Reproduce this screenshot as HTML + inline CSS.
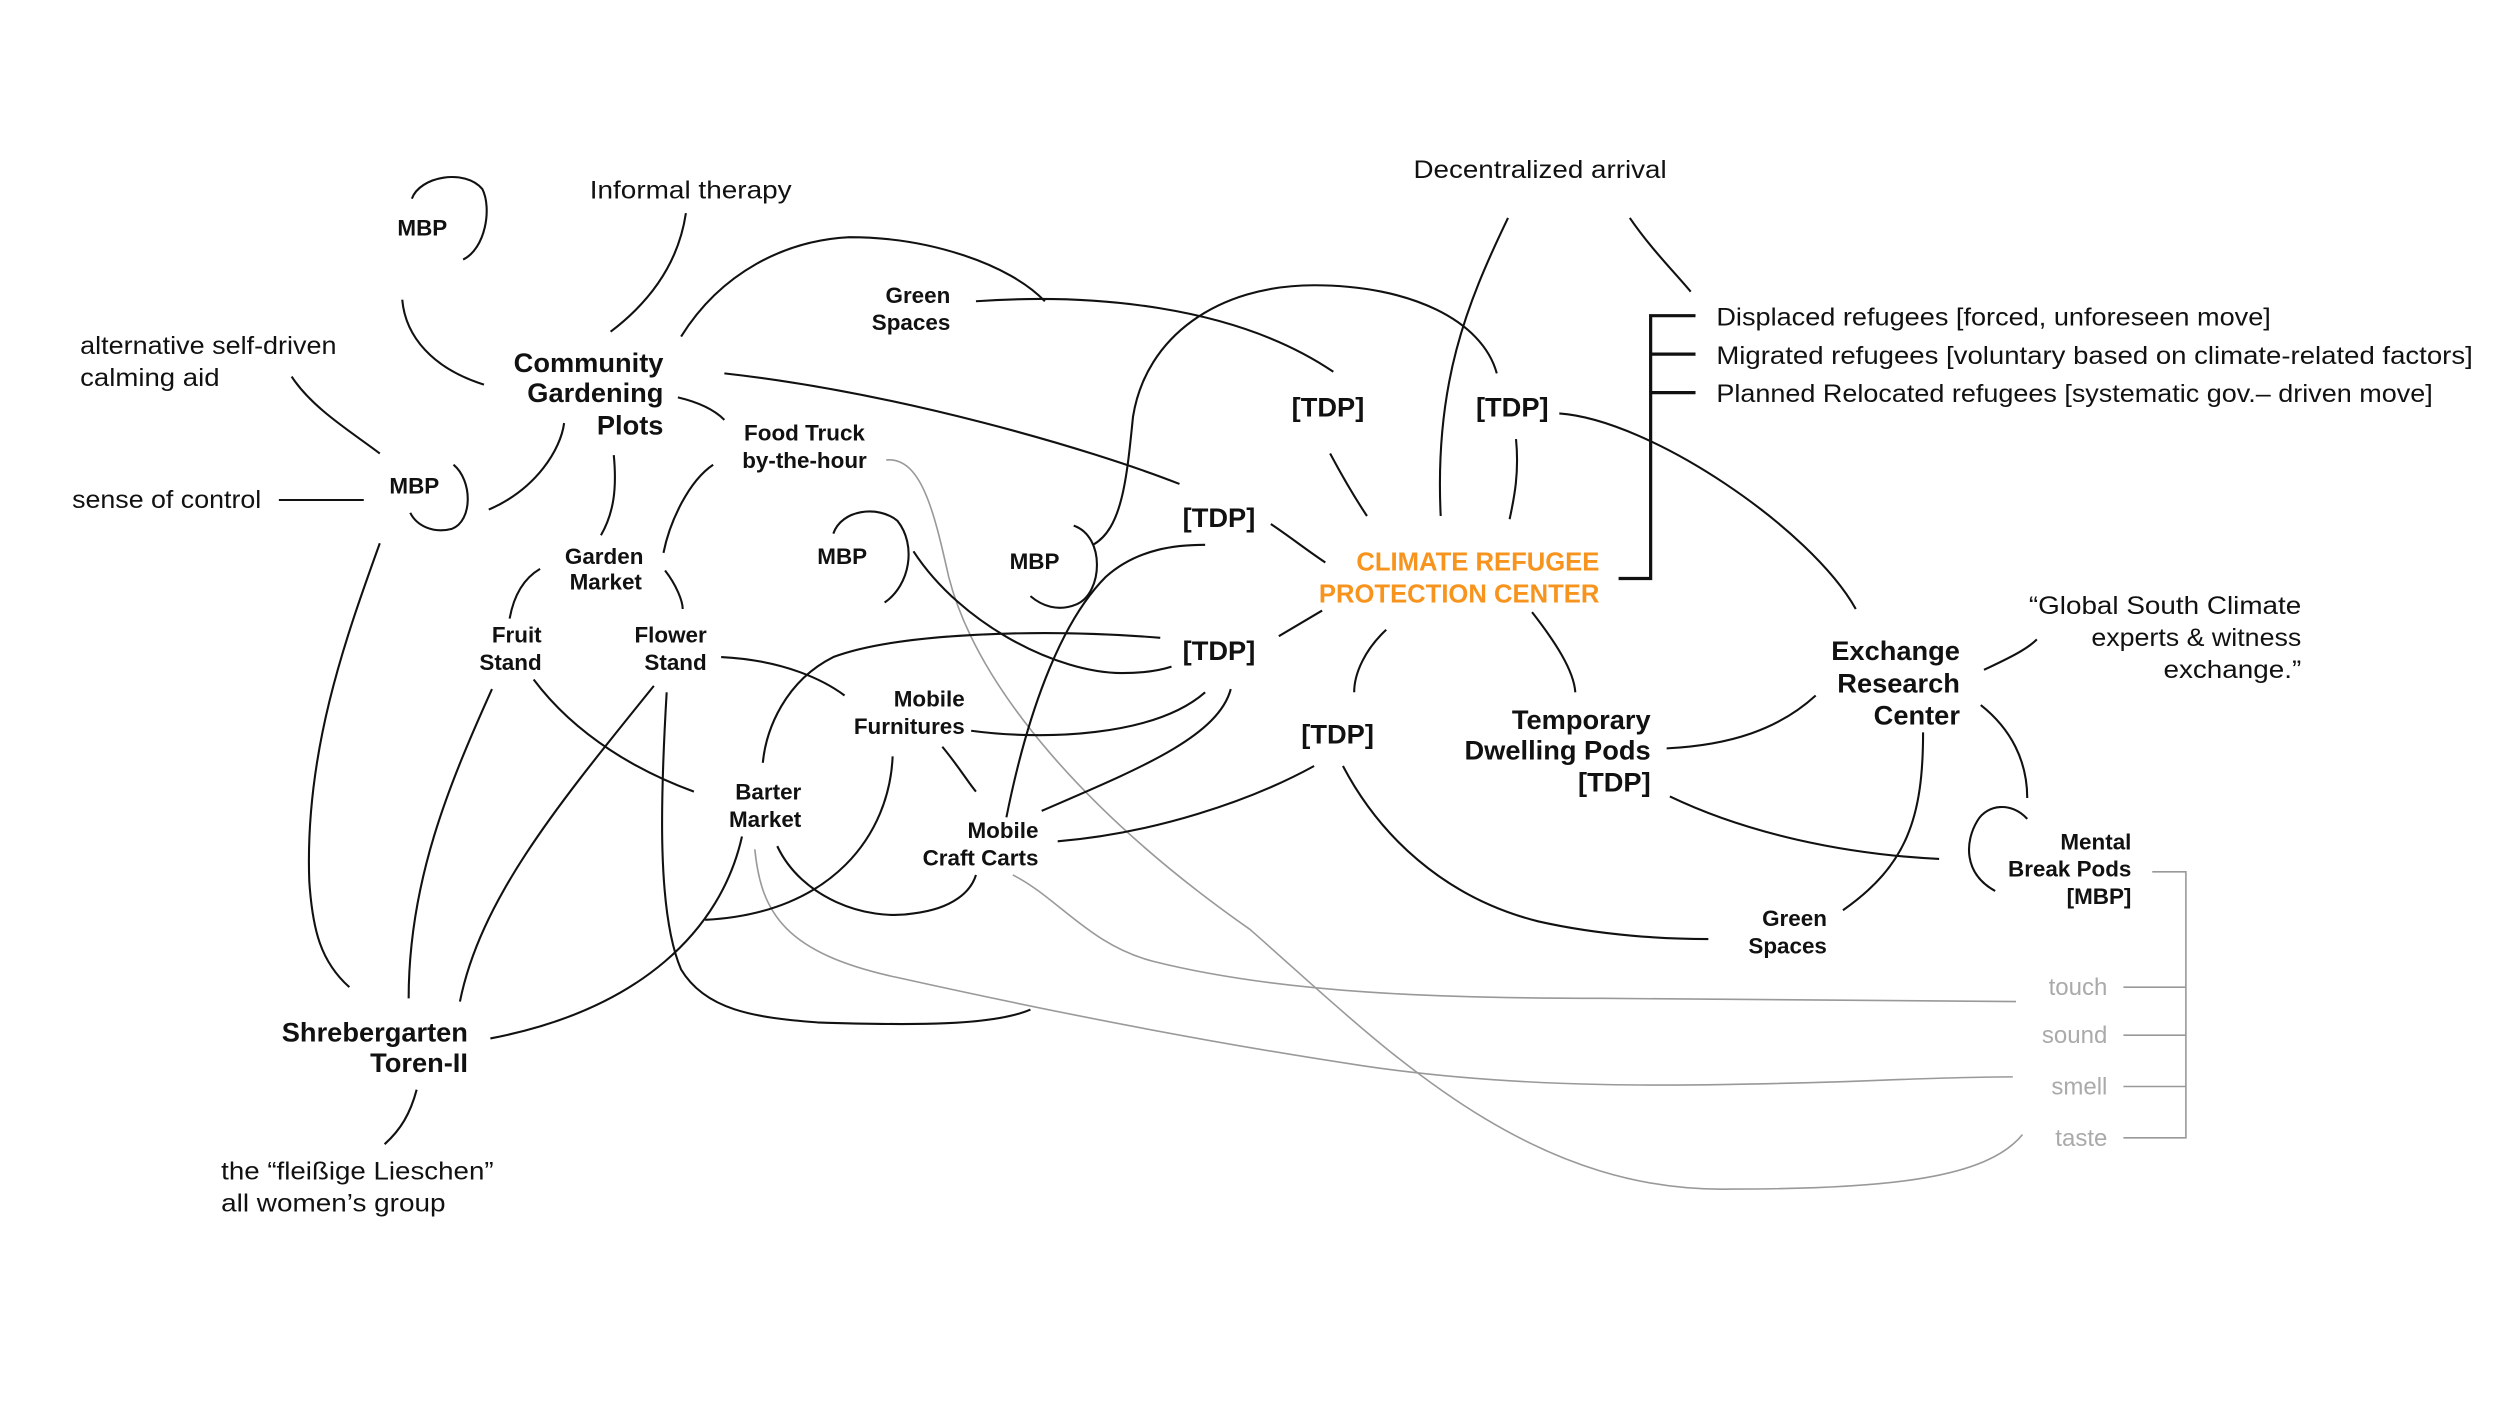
<!DOCTYPE html>
<html><head><meta charset="utf-8"><style>
html,body{margin:0;padding:0;background:#fff;}
svg{display:block;}
text{font-family:"Liberation Sans",sans-serif;}
.r{font-size:15.5px;fill:#111;}
.b{font-size:14px;font-weight:bold;fill:#111;}
.B{font-size:17px;font-weight:bold;fill:#111;}
.o{font-size:16px;font-weight:bold;fill:#f7941d;}
.g{font-size:15px;fill:#aaa;}
path{fill:none;stroke:#111;stroke-width:1.3;}
path.gr{stroke:#999;stroke-width:1;}
</style></head><body>
<svg width="2500" height="1407" viewBox="0 0 1560 878" preserveAspectRatio="none" xmlns="http://www.w3.org/2000/svg">
<rect width="1560" height="878" fill="#fff"/>
<path class="gr" d="M553,287 C575,285 583,320 592,360 C610,430 680,510 780,580 C860,650 950,745 1080,742 C1180,742 1240,735 1262,708"/>
<path class="gr" d="M471,530 C475,570 490,595 560,610 C650,630 750,650 850,665 C950,680 1050,678 1150,675 C1200,673 1240,672 1256,672"/>
<path class="gr" d="M632,546 C660,560 680,590 720,600 C800,620 900,623 1000,623 C1100,624 1200,624 1258,625"/>
<path class="gr" d="M1343,544 L1364,544 L1364,710 L1325,710 M1325,616 L1364,616 M1325,646 L1364,646 M1325,678 L1364,678"/>
<path d="M257,124 C262,110 290,105 301,118 C307,130 303,155 289,162"/>
<path d="M251,187 C253,210 270,230 302,240"/>
<path d="M428,133 C424,160 410,185 381,207"/>
<path d="M425,210 C450,170 490,150 530,148 C580,148 630,165 652,188"/>
<path d="M609,188 C680,183 770,190 832,232"/>
<path d="M682,340 C700,330 703,300 707,260 C715,210 760,178 820,178 C880,178 925,200 934,233"/>
<path d="M670,328 C690,335 688,370 672,377 C660,382 650,378 643,372"/>
<path d="M452,233 C560,245 680,280 736,302"/>
<path d="M423,248 C440,252 448,258 452,262"/>
<path d="M182,235 C195,255 220,270 237,283"/>
<path d="M174,312 L227,312"/>
<path d="M283,290 C295,300 295,325 282,330 C270,333 260,328 256,320"/>
<path d="M352,264 C350,280 335,305 305,318"/>
<path d="M383,284 C385,305 383,320 375,334"/>
<path d="M445,290 C430,300 418,325 414,345"/>
<path d="M337,355 C325,362 320,375 318,386"/>
<path d="M415,356 C422,365 426,375 426,380"/>
<path d="M450,410 C490,412 515,425 527,434"/>
<path d="M237,339 C215,400 190,470 193,550 C195,580 200,600 218,616"/>
<path d="M307,430 C280,490 255,550 255,623"/>
<path d="M408,428 C350,500 300,560 287,625"/>
<path d="M333,424 C360,460 400,482 433,494"/>
<path d="M416,432 C412,500 410,570 425,605 C440,630 470,635 510,638 C570,640 620,640 643,630"/>
<path d="M463,522 C450,580 400,630 306,648"/>
<path d="M724,398 C650,392 560,395 520,410 C490,425 478,455 476,476"/>
<path d="M520,333 C525,318 548,315 560,325 C572,340 568,365 552,376"/>
<path d="M570,344 C600,390 660,420 700,420 C715,420 725,418 731,416"/>
<path d="M557,472 C555,520 520,570 440,574"/>
<path d="M485,528 C500,560 540,575 570,570 C595,567 606,556 609,546"/>
<path d="M588,466 C598,478 604,488 609,494"/>
<path d="M628,510 C640,450 660,390 690,360 C710,342 735,340 752,340"/>
<path d="M606,456 C650,462 720,460 752,432"/>
<path d="M650,506 C710,480 760,460 768,430"/>
<path d="M660,525 C720,520 780,500 820,478"/>
<path d="M793,327 C805,335 815,343 827,351"/>
<path d="M830,283 C838,298 845,310 853,322"/>
<path d="M941,136 C915,190 895,240 899,322"/>
<path d="M1017,136 C1030,155 1045,170 1055,182"/>
<path d="M946,274 C948,295 945,310 942,324"/>
<path d="M973,258 C1030,262 1130,330 1158,380"/>
<path d="M825,381 L798,397"/>
<path d="M865,393 C852,405 845,420 845,432"/>
<path d="M956,382 C970,400 982,418 983,432"/>
<path d="M1238,418 C1255,410 1265,405 1271,399"/>
<path d="M1133,434 C1110,455 1080,465 1040,467"/>
<path d="M1042,497 C1090,520 1150,533 1210,536"/>
<path d="M1236,440 C1255,455 1265,475 1265,498"/>
<path d="M1265,511 C1255,500 1240,502 1234,512 C1226,525 1225,545 1245,556"/>
<path d="M1200,457 C1200,510 1190,540 1150,568"/>
<path d="M838,478 C860,520 900,560 960,575 C1000,584 1040,586 1066,586"/>
<path d="M260,680 C256,695 250,705 240,714"/>
<path d="M1010,361 L1030,361 L1030,197 L1058,197 M1030,221 L1058,221 M1030,245 L1058,245" style="stroke-width:2"/>
<text class="r" x="368" y="124" textLength="126" lengthAdjust="spacingAndGlyphs">Informal therapy</text>
<text class="b" x="248" y="147">MBP</text>
<text class="r" x="882" y="111" textLength="158" lengthAdjust="spacingAndGlyphs">Decentralized arrival</text>
<text class="r" x="50" y="221" textLength="160" lengthAdjust="spacingAndGlyphs">alternative self-driven</text>
<text class="r" x="50" y="241" textLength="87" lengthAdjust="spacingAndGlyphs">calming aid</text>
<text class="B" text-anchor="end" x="414" y="232">Community</text>
<text class="B" text-anchor="end" x="414" y="251">Gardening</text>
<text class="B" text-anchor="end" x="414" y="271">Plots</text>
<text class="b" text-anchor="end" x="593" y="189">Green</text>
<text class="b" text-anchor="end" x="593" y="206">Spaces</text>
<text class="b" text-anchor="middle" x="502" y="275">Food Truck</text>
<text class="b" text-anchor="middle" x="502" y="292">by-the-hour</text>
<text class="B" x="806" y="260">[TDP]</text>
<text class="B" x="921" y="260">[TDP]</text>
<text class="r" x="1071" y="203" textLength="346" lengthAdjust="spacingAndGlyphs">Displaced refugees [forced, unforeseen move]</text>
<text class="r" x="1071" y="227" textLength="472" lengthAdjust="spacingAndGlyphs">Migrated refugees [voluntary based on climate-related factors]</text>
<text class="r" x="1071" y="251" textLength="447" lengthAdjust="spacingAndGlyphs">Planned Relocated refugees [systematic gov.– driven move]</text>
<text class="b" x="243" y="308">MBP</text>
<text class="r" x="45" y="317" textLength="118" lengthAdjust="spacingAndGlyphs">sense of control</text>
<text class="B" x="738" y="329">[TDP]</text>
<text class="b" x="510" y="352">MBP</text>
<text class="b" x="630" y="355">MBP</text>
<text class="o" text-anchor="end" x="998" y="356">CLIMATE REFUGEE</text>
<text class="o" text-anchor="end" x="998" y="376">PROTECTION CENTER</text>
<text class="b" text-anchor="middle" x="377" y="352">Garden</text>
<text class="b" text-anchor="middle" x="378" y="368">Market</text>
<text class="b" text-anchor="end" x="338" y="401">Fruit</text>
<text class="b" text-anchor="end" x="338" y="418">Stand</text>
<text class="b" text-anchor="end" x="441" y="401">Flower</text>
<text class="b" text-anchor="end" x="441" y="418">Stand</text>
<text class="B" x="738" y="412">[TDP]</text>
<text class="b" text-anchor="end" x="602" y="441">Mobile</text>
<text class="b" text-anchor="end" x="602" y="458">Furnitures</text>
<text class="B" x="812" y="464">[TDP]</text>
<text class="B" text-anchor="end" x="1030" y="455">Temporary</text>
<text class="B" text-anchor="end" x="1030" y="474">Dwelling Pods</text>
<text class="B" text-anchor="end" x="1030" y="494">[TDP]</text>
<text class="B" text-anchor="end" x="1223" y="412">Exchange</text>
<text class="B" text-anchor="end" x="1223" y="432">Research</text>
<text class="B" text-anchor="end" x="1223" y="452">Center</text>
<text class="r" x="1266" y="383" textLength="170" lengthAdjust="spacingAndGlyphs">“Global South Climate</text>
<text class="r" x="1305" y="403" textLength="131" lengthAdjust="spacingAndGlyphs">experts &amp; witness</text>
<text class="r" x="1350" y="423" textLength="86" lengthAdjust="spacingAndGlyphs">exchange.”</text>
<text class="b" text-anchor="end" x="500" y="499">Barter</text>
<text class="b" text-anchor="end" x="500" y="516">Market</text>
<text class="b" text-anchor="end" x="648" y="523">Mobile</text>
<text class="b" text-anchor="end" x="648" y="540">Craft Carts</text>
<text class="b" text-anchor="end" x="1330" y="530">Mental</text>
<text class="b" text-anchor="end" x="1330" y="547">Break Pods</text>
<text class="b" text-anchor="end" x="1330" y="564">[MBP]</text>
<text class="b" text-anchor="end" x="1140" y="578">Green</text>
<text class="b" text-anchor="end" x="1140" y="595">Spaces</text>
<text class="B" text-anchor="end" x="292" y="650">Shrebergarten</text>
<text class="B" text-anchor="end" x="292" y="669">Toren-II</text>
<text class="r" x="138" y="736" textLength="170" lengthAdjust="spacingAndGlyphs">the “fleißige Lieschen”</text>
<text class="r" x="138" y="756" textLength="140" lengthAdjust="spacingAndGlyphs">all women’s group</text>
<text class="g" text-anchor="end" x="1315" y="621">touch</text>
<text class="g" text-anchor="end" x="1315" y="651">sound</text>
<text class="g" text-anchor="end" x="1315" y="683">smell</text>
<text class="g" text-anchor="end" x="1315" y="715">taste</text>
</svg>
</body></html>
